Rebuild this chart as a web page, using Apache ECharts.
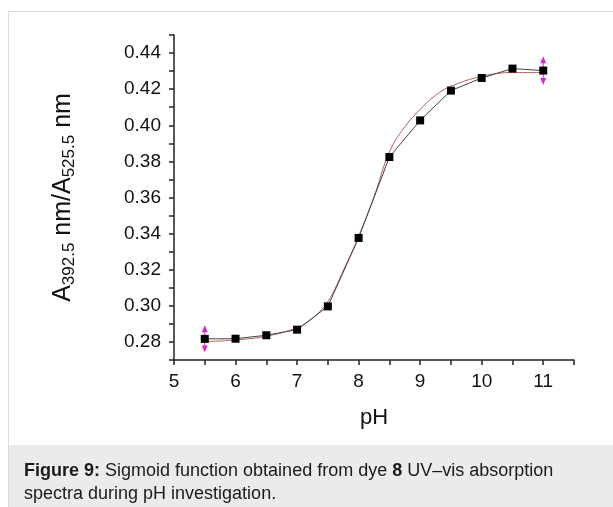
<!DOCTYPE html>
<html>
<head>
<meta charset="utf-8">
<script src="https://cdn.jsdelivr.net/npm/echarts@6/dist/echarts.min.js"></script>
<style>
  html, body { margin: 0; padding: 0; background: #fff; }
  #chart { width: 613px; height: 507px; }
</style>
</head>
<body>
<div id="chart"></div>
<script>
// measured points (pH, A392.5/A525.5)
const phValues = [5.5, 6, 6.5, 7, 7.5, 8, 8.5, 9, 9.5, 10, 10.5, 11];
const ratioValues = [0.2817, 0.2818, 0.2837, 0.2868, 0.2997, 0.3376, 0.3824, 0.4027, 0.4192, 0.4262, 0.4314, 0.4303];
// sigmoid fit curve
const fitPh = [5.5, 6, 6.5, 7, 7.25, 7.5, 7.75, 8, 8.25, 8.5, 8.75, 9, 9.25, 9.5, 10, 10.5, 11];
const fitRatio = [0.2802, 0.2811, 0.2832, 0.2879, 0.2931, 0.3023, 0.3195, 0.3385, 0.3604, 0.3852, 0.3991, 0.4087, 0.4166, 0.4216, 0.4271, 0.4292, 0.4292];
// error bars on the end points
const errPh = [5.5, 11];
const errRatio = [0.2817, 0.4303];
const errSize = [0.0076, 0.0080];

const chart = echarts.init(document.getElementById('chart'));

const pts = phValues.map((x, i) => [x, ratioValues[i]]);
const fit = fitPh.map((x, i) => [x, fitRatio[i]]);
const errs = errPh.map((x, i) => [x, errRatio[i], errSize[i]]);

const font = 'Liberation Sans, Arial, Helvetica, sans-serif';

function errorBar(params, api) {
  const top = api.coord([api.value(0), api.value(1) + api.value(2)]);
  const bot = api.coord([api.value(0), api.value(1) - api.value(2)]);
  const c = '#d62ad6';
  return {
    type: 'group',
    children: [
      { type: 'line', shape: { x1: top[0], y1: top[1] + 4, x2: bot[0], y2: bot[1] - 4 }, style: { stroke: c, lineWidth: 1 } },
      { type: 'polygon', shape: { points: [[top[0], top[1]], [top[0] - 3, top[1] + 7], [top[0] + 3, top[1] + 7]] }, style: { fill: c } },
      { type: 'polygon', shape: { points: [[bot[0], bot[1]], [bot[0] - 3, bot[1] - 7], [bot[0] + 3, bot[1] - 7]] }, style: { fill: c } }
    ]
  };
}

let option = {
  animation: false,
  backgroundColor: '#fff',
  grid: { left: 174, right: 39, top: 35, bottom: 147 },
  xAxis: {
    type: 'value',
    min: 5,
    max: 11.5,
    interval: 0.5,
    name: 'pH',
    nameLocation: 'middle',
    nameGap: 47,
    nameTextStyle: { fontSize: 22, color: '#111', fontFamily: font },
    axisLine: { lineStyle: { color: '#222', width: 1.5 } },
    axisTick: { length: 5, lineStyle: { color: '#222', width: 1.5 } },
    axisLabel: {
      fontSize: 19,
      color: '#111',
      fontFamily: font,
      margin: 12,
      formatter: function(v) {
        return Math.abs(v - Math.round(v)) < 1e-6 ? String(Math.round(v)) : '';
      }
    },
    splitLine: { show: false }
  },
  yAxis: {
    type: 'value',
    min: 0.27,
    max: 0.45,
    interval: 0.01,
    name: '{m|A}{s|392.5}{m| nm/A}{s|525.5}{m| nm}',
    nameLocation: 'middle',
    nameGap: 96,
    nameRotate: 90,
    nameTextStyle: {
      color: '#111',
      fontFamily: font,
      rich: {
        m: { fontSize: 25, lineHeight: 30, color: '#111', fontFamily: font, verticalAlign: 'middle' },
        s: { fontSize: 17, lineHeight: 16, color: '#111', fontFamily: font, verticalAlign: 'bottom' }
      }
    },
    axisLine: { show: true, lineStyle: { color: '#222', width: 1.5 } },
    axisTick: { show: true, length: 5, lineStyle: { color: '#222', width: 1.5 } },
    axisLabel: {
      fontSize: 19,
      color: '#111',
      fontFamily: font,
      margin: 13,
      formatter: function(v) {
        return Math.round(v * 100) % 2 === 0 ? v.toFixed(2) : '';
      }
    },
    splitLine: { show: false }
  },
  series: [
    {
      name: 'fit',
      type: 'line',
      data: fit,
      smooth: 0.4,
      showSymbol: false,
      lineStyle: { color: '#b8605a', width: 1 },
      z: 2
    },
    {
      name: 'err',
      type: 'custom',
      data: errs,
      renderItem: errorBar,
      z: 3
    },
    {
      name: 'data',
      type: 'line',
      data: pts,
      symbol: 'rect',
      symbolSize: 8,
      lineStyle: { color: '#444', width: 1 },
      itemStyle: { color: '#000' },
      z: 4
    }
  ],
  graphic: [
    { type: 'line', shape: { x1: 8, y1: 11.5, x2: 613, y2: 11.5 }, style: { stroke: '#dadada', lineWidth: 1 } },
    { type: 'line', shape: { x1: 8.5, y1: 11, x2: 8.5, y2: 507 }, style: { stroke: '#dadada', lineWidth: 1 } },
    { type: 'rect', shape: { x: 9, y: 445, width: 604, height: 62 }, style: { fill: '#ebebeb' } },
    {
      type: 'text',
      left: 24,
      top: 460,
      style: {
        text: '{b|Figure 9:} Sigmoid function obtained from dye {b|8} UV\u2013vis absorption\nspectra during pH investigation.',
        fontSize: 18,
        lineHeight: 23,
        fill: '#1a1a1a',
        fontFamily: font,
        rich: {
          b: { fontWeight: 'bold', fontSize: 18, lineHeight: 23, fill: '#1a1a1a', fontFamily: font }
        }
      }
    }
  ]
};

chart.setOption(option);
</script>
</body>
</html>
